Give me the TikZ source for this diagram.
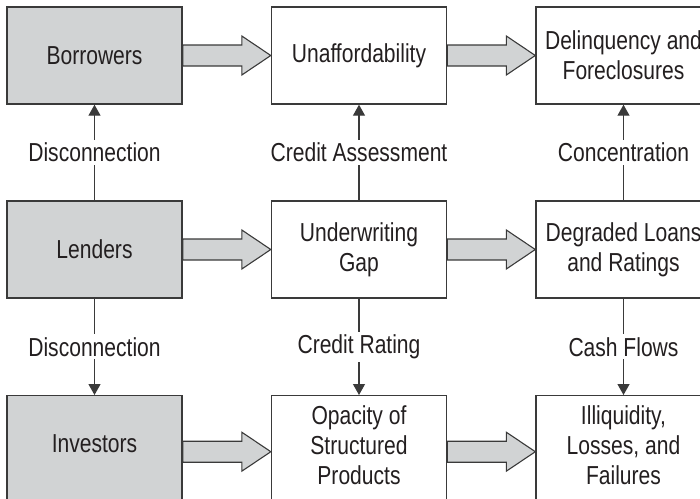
\documentclass[tikz,border=0pt]{standalone}
\usepackage{fontspec}
\setmainfont{Liberation Sans}[FakeStretch=0.81]
\usetikzlibrary{calc,arrows.meta}
\definecolor{boxgray}{HTML}{D1D3D4}
\definecolor{linegray}{HTML}{3A3A3A}
\definecolor{txt}{HTML}{231F20}
\tikzset{
  basebox/.style={draw=linegray, line width=1.4pt, minimum width=175pt, minimum height=97pt,
    inner sep=0pt, align=center, text=txt, font=\fontsize{26}{30}\selectfont},
  gbox/.style={basebox, fill=boxgray},
  wbox/.style={basebox, fill=white},
  tallbox/.style={wbox, minimum height=112pt},
  tallgbox/.style={gbox, minimum height=112pt},
  blockarrow/.style={draw=linegray, line width=1.1pt, fill=boxgray, line join=miter},
  varr/.style={draw=linegray, line width=1.2pt, -{Triangle[width=12pt,length=11pt]}},
  lab/.style={fill=white, inner sep=3pt, text=txt, font=\fontsize{26}{30}\selectfont}
}
\newcommand{\blockarr}[2]{%
  \draw[blockarrow] ($(#1.east)+(0,10.5)$) -- ($(#2.west)+(-29,10.5)$) -- ($(#2.west)+(-29,19.5)$)
    -- (#2.west) -- ($(#2.west)+(-29,-19.5)$) -- ($(#2.west)+(-29,-10.5)$) -- ($(#1.east)+(0,-10.5)$) -- cycle;}
\begin{document}
\begin{tikzpicture}[x=1pt,y=-1pt]
\useasboundingbox (0,0) rectangle (700,498);
\clip (0,0) rectangle (700,498);
% boxes
\node[gbox] (bor) at (94.5,55.5) {Borrowers};
\node[wbox] (unaf) at (359,55.5) {Unaffordability};
\node[wbox] (delq) at (623.5,55.5) {Delinquency and\\Foreclosures};
\node[gbox] (lend) at (94.5,249.5) {Lenders};
\node[wbox] (uwg) at (359,249.5) {Underwriting\\Gap};
\node[wbox] (degr) at (623.5,249.5) {Degraded Loans\\and Ratings};
\node[tallgbox, anchor=north] (inv) at (94.5,395) {};
\node[tallbox, anchor=north] (opac) at (359,395) {};
\node[tallbox, anchor=north] (illq) at (623.5,395) {};
\node[text=txt, font=\fontsize{26}{30}\selectfont, align=center] (invt) at (94.5,443.5) {Investors};
\node[text=txt, font=\fontsize{26}{30}\selectfont, align=center] (opact) at (359,445.5) {Opacity of\\Structured\\Products};
\node[text=txt, font=\fontsize{26}{30}\selectfont, align=center] (illqt) at (623.5,445.5) {Illiquidity,\\Losses, and\\Failures};
% block arrows
\blockarr{bor}{unaf}
\blockarr{unaf}{delq}
\blockarr{lend}{uwg}
\blockarr{uwg}{degr}
\blockarr{inv}{opac}
\blockarr{opac}{illq}
% vertical arrows
\draw[varr] (lend.north) -- (bor.south) node[midway,lab] {Disconnection};
\draw[varr] (uwg.north) -- (unaf.south) node[midway,lab] {Credit Assessment};
\draw[varr] (degr.north) -- (delq.south) node[midway,lab] {Concentration};
\draw[varr] (lend.south) -- (inv.north) node[midway,lab] {Disconnection};
\draw[varr] (uwg.south) -- (opac.north) node[midway,lab] {Credit Rating};
\draw[varr] (degr.south) -- (illq.north) node[midway,lab] {Cash Flows};
\end{tikzpicture}
\end{document}
